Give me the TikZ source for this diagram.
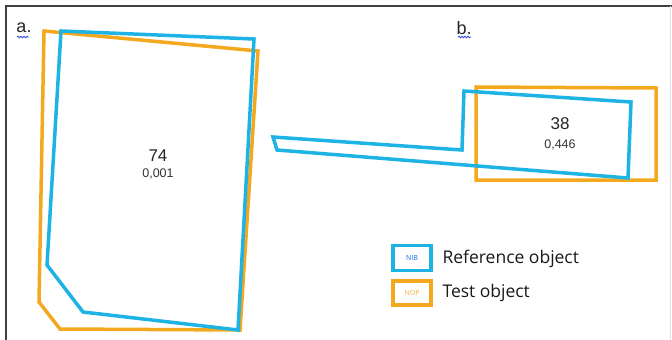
\documentclass[tikz,border=0pt]{standalone}
\usepackage{fontspec}
\setmainfont{Liberation Sans}
\newfontfamily\legfont{Open Sans}
\usetikzlibrary{decorations.pathmorphing}
\definecolor{refblue}{HTML}{1DB3E4}
\definecolor{testorange}{HTML}{F3A81E}
\definecolor{wavy}{HTML}{3A4FD0}
\begin{document}
\begin{tikzpicture}[x=1pt,y=-1pt,
  refline/.style={draw=refblue,line width=3.5pt,line join=miter},
  testline/.style={draw=testorange,line width=3.5pt,line join=miter},
  frame/.style={draw=black!75,line width=1.2pt},
  numlbl/.style={font=\fontsize{17}{18}\selectfont,text=black!85},
  vallbl/.style={font=\fontsize{12.5}{13}\selectfont,text=black!80},
  partlbl/.style={font=\fontsize{18}{19}\selectfont,text=black!85},
  legtext/.style={font=\legfont\fontsize{17.5}{19}\selectfont,anchor=west,text=black!90},
  squiggle/.style={draw=wavy,line width=0.9pt,decorate,decoration={snake,amplitude=0.8pt,segment length=3pt}}]
\useasboundingbox (0,0) rectangle (672,340);
% frame
\draw[frame] (6,340) -- (6,6) -- (672,6);
\draw[draw=black!12,line width=0.6pt] (670,6) -- (670,340);
% part labels
\node[partlbl] (la) at (24,28) {a.};
\node[partlbl] (lb) at (464,28) {b.};
\draw[squiggle] (17,37) -- (29,37);
\draw[squiggle] (458,37) -- (471,37);
% shape a
\draw[testline] (44,31) -- (258,51) -- (240,330) -- (60,329) -- (39,302) -- cycle;
\draw[refline] (61,31) -- (254,39) -- (238,330) -- (83,312) -- (47,265) -- cycle;
\node[numlbl] (na) at (158,156) {74};
\node[vallbl] (va) at (158,174) {0,001};
% shape b
\draw[testline] (476,87) -- (656,88) -- (656,180) -- (476,180) -- cycle;
\draw[refline] (273,137) -- (462,150) -- (464,91) -- (631,102) -- (628,178) -- (277,150) -- cycle;
\node[numlbl] (nb) at (560,124) {38};
\node[vallbl] (vb) at (560,145) {0,446};
% legend
\node[draw=refblue,line width=3.5pt,minimum width=38pt,minimum height=25pt,inner sep=0pt,
  font=\legfont\fontsize{7}{8}\selectfont,text=refblue!60!blue] (kref) at (412,258) {NIB};
\node[draw=testorange,line width=3.5pt,minimum width=38pt,minimum height=24pt,inner sep=0pt,
  font=\legfont\fontsize{7}{8}\selectfont,text=testorange!90] (ktest) at (412,293) {NOP};
\node[legtext] (tref) at (439,259) {Reference object};
\node[legtext] (ttest) at (439,293) {Test object};
\end{tikzpicture}
\end{document}
